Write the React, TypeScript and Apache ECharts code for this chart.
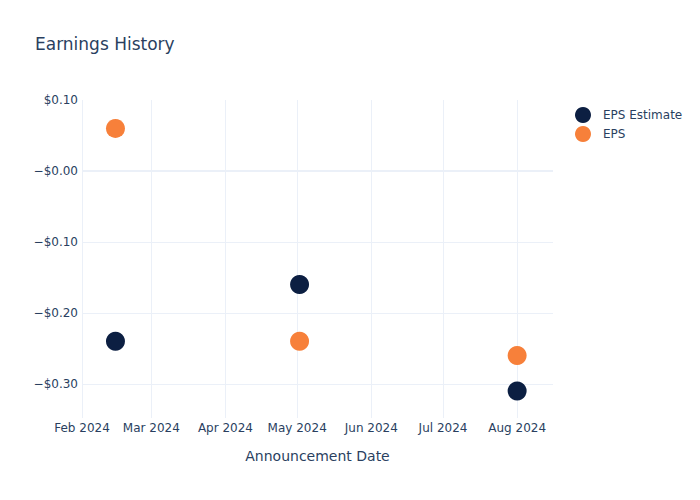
import React, { useEffect, useRef } from "react";
import * as echarts from "echarts";

const dates = ["2024-02-15", "2024-05-02", "2024-08-01"];
const epsEstimate = [-0.24, -0.16, -0.31];
const epsActual = [0.06, -0.24, -0.26];
const yTicks = [-0.3, -0.2, -0.1, 0, 0.1];
const yGrid = [-0.3, -0.2, -0.1, 0];
const xTicks = ["2024-02-01", "2024-03-01", "2024-04-01", "2024-05-01", "2024-06-01", "2024-07-01", "2024-08-01"];
const monthNames = ["Jan", "Feb", "Mar", "Apr", "May", "Jun", "Jul", "Aug", "Sep", "Oct", "Nov", "Dec"];

const FONT = "DejaVu Sans";
const TEXT = "#2a3f5f";
const GRID = "#ebf0f8";

const ts = (d: string) => new Date(d + "T00:00:00Z").getTime();

export default function App() {
  const ref = useRef<HTMLDivElement>(null);
  useEffect(() => {
    if (!ref.current) return;
    const chart = echarts.init(ref.current, null, { renderer: "svg" });
    const xTickTs = xTicks.map(ts);
    chart.setOption({
      animation: false,
      backgroundColor: "#fff",
      textStyle: { fontFamily: FONT },
      title: {
        text: "Earnings History",
        left: 35,
        top: 35,
        padding: 0,
        textStyle: { fontFamily: FONT, fontSize: 17, fontWeight: "normal", color: TEXT },
      },
      legend: {
        orient: "vertical",
        left: 575,
        top: 107,
        padding: 0,
        itemWidth: 16,
        itemHeight: 16,
        itemGap: 3,
        icon: "circle",
        textStyle: { fontFamily: FONT, fontSize: 12, color: TEXT, padding: [0, 0, 0, 7] },
        data: ["EPS Estimate", "EPS"],
      },
      grid: { left: 82, right: 147, top: 100, bottom: 82, containLabel: false },
      xAxis: {
        type: "value",
        min: ts("2024-02-01"),
        max: ts("2024-08-16"),
        name: "Announcement Date",
        nameLocation: "middle",
        nameGap: 31,
        nameTextStyle: { fontFamily: FONT, fontSize: 14, color: TEXT },
        axisLine: { show: false },
        axisTick: { show: false, customValues: xTickTs },
        axisLabel: {
          customValues: xTickTs,
          fontFamily: FONT,
          fontSize: 12,
          color: TEXT,
          margin: 4,
          hideOverlap: false,
          formatter: (v: number) => {
            const d = new Date(v);
            return monthNames[d.getUTCMonth()] + " " + d.getUTCFullYear();
          },
        },
        splitLine: { show: true, lineStyle: { color: GRID, width: 1 } },
      },
      yAxis: {
        type: "value",
        min: -0.348,
        max: 0.1,
        axisLine: { show: false },
        axisTick: { show: false, customValues: yGrid },
        axisLabel: {
          customValues: yTicks,
          fontFamily: FONT,
          fontSize: 12,
          color: TEXT,
          margin: 4,
          formatter: (v: number) => (v > 0.001 ? "$" + v.toFixed(2) : "\u2212$" + Math.abs(v).toFixed(2)),
        },
        splitLine: { show: true, lineStyle: { color: GRID, width: 1 } },
      },
      series: [
        {
          name: "EPS Estimate",
          type: "scatter",
          symbolSize: 19,
          itemStyle: { color: "#0c1f42", opacity: 1 },
          data: dates.map((d, i) => [ts(d), epsEstimate[i]]),
          markLine: {
            silent: true,
            symbol: "none",
            label: { show: false },
            lineStyle: { color: GRID, width: 2, type: "solid" },
            data: [{ yAxis: 0 }],
          },
          z: 3,
        },
        {
          name: "EPS",
          type: "scatter",
          symbolSize: 19,
          itemStyle: { color: "#f7803a", opacity: 1 },
          data: dates.map((d, i) => [ts(d), epsActual[i]]),
          z: 3,
        },
      ],
    });
    return () => chart.dispose();
  }, []);
  return <div ref={ref} style={{ position: "absolute", left: 0, top: 0, width: 700, height: 500 }} />;
}
